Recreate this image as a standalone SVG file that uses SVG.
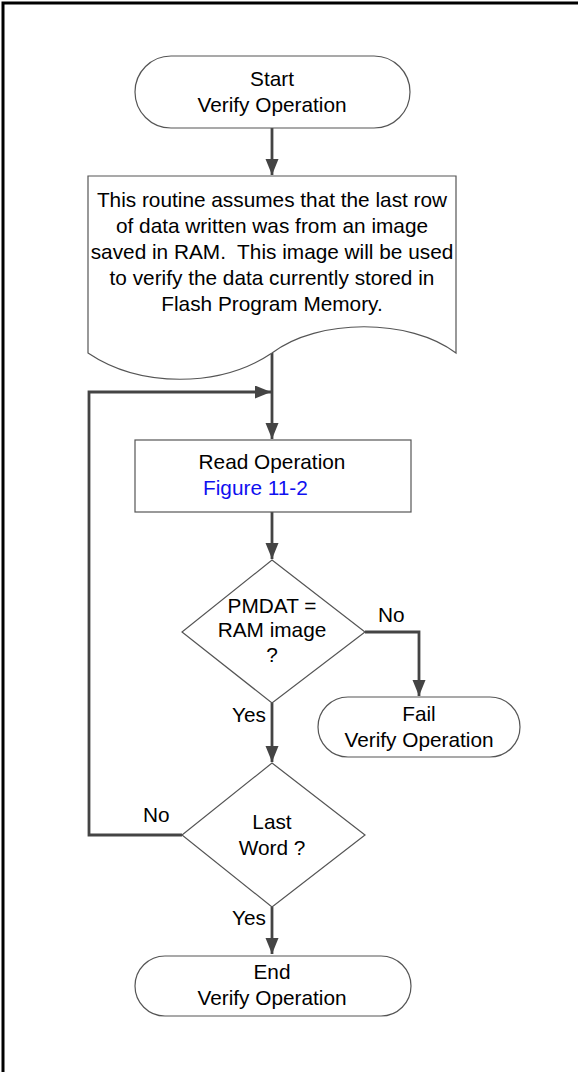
<svg xmlns="http://www.w3.org/2000/svg" width="578" height="1072" viewBox="0 0 578 1072">
<style>
.shape{fill:#fff;stroke:#555;stroke-width:1.2}
.conn{fill:none;stroke:#444;stroke-width:2.8}
text{font-family:"Liberation Sans",Arial,sans-serif;font-size:20.8px;fill:#000;text-anchor:middle}
.lbl{text-anchor:start}
.link{fill:#1010f0;text-anchor:start}
</style>
<defs>
<marker id="ah" markerUnits="userSpaceOnUse" markerWidth="17" markerHeight="14" refX="16" refY="6.5" orient="auto">
<path d="M0,0 L16,6.5 L0,13 z" fill="#444"/>
</marker>
</defs>
<rect x="3" y="3" width="620" height="1120" fill="none" stroke="#000" stroke-width="3"/>
<g id="connectors">
<path class="conn" d="M272,128 V175" marker-end="url(#ah)"/>
<path class="conn" d="M272,353 V439" marker-end="url(#ah)"/>
<path class="conn" d="M182,835 H89 V392 H271" marker-end="url(#ah)"/>
<path class="conn" d="M272,512 V559" marker-end="url(#ah)"/>
<path class="conn" d="M365,632 H419 V696" marker-end="url(#ah)"/>
<path class="conn" d="M272,703 V762" marker-end="url(#ah)"/>
<path class="conn" d="M272,907 V954" marker-end="url(#ah)"/>
</g>
<g id="start">
<rect class="shape" x="135" y="56" width="275" height="72" rx="36" ry="36"/>
<text x="272" y="86">Start</text>
<text x="272" y="112">Verify Operation</text>
</g>
<g id="note">
<path class="shape" d="M88,176 H456 V353 C410,318 318,318 272,353 C220,388 140,388 88,353 Z"/>
<text x="272" y="207">This routine assumes that the last row</text>
<text x="272" y="233">of data written was from an image</text>
<text x="272" y="259">saved in RAM.&#160; This image will be used</text>
<text x="272" y="285">to verify the data currently stored in</text>
<text x="272" y="311">Flash Program Memory.</text>
</g>
<g id="read">
<rect class="shape" x="135" y="440" width="276" height="72"/>
<text x="272" y="469">Read Operation</text>
<text class="link" x="203" y="495">Figure 11-2</text>
</g>
<g id="decision1">
<path class="shape" d="M272,560 L365,632 L272,703 L182,632 Z"/>
<text x="272" y="613">PMDAT =</text>
<text x="272" y="637">RAM image</text>
<text x="272" y="662">?</text>
</g>
<g id="fail">
<rect class="shape" x="318" y="697" width="202" height="60" rx="30" ry="30"/>
<text x="419" y="721">Fail</text>
<text x="419" y="747">Verify Operation</text>
</g>
<g id="decision2">
<path class="shape" d="M272,763 L365,835 L272,907 L182,835 Z"/>
<text x="272" y="829">Last</text>
<text x="272" y="855">Word ?</text>
</g>
<g id="end">
<rect class="shape" x="135" y="956" width="276" height="60" rx="30" ry="30"/>
<text x="272" y="979">End</text>
<text x="272" y="1005">Verify Operation</text>
</g>
<g id="labels">
<text class="lbl" x="378" y="622">No</text>
<text class="lbl" x="232" y="722">Yes</text>
<text class="lbl" x="143" y="822">No</text>
<text class="lbl" x="232" y="925">Yes</text>
</g>
</svg>
